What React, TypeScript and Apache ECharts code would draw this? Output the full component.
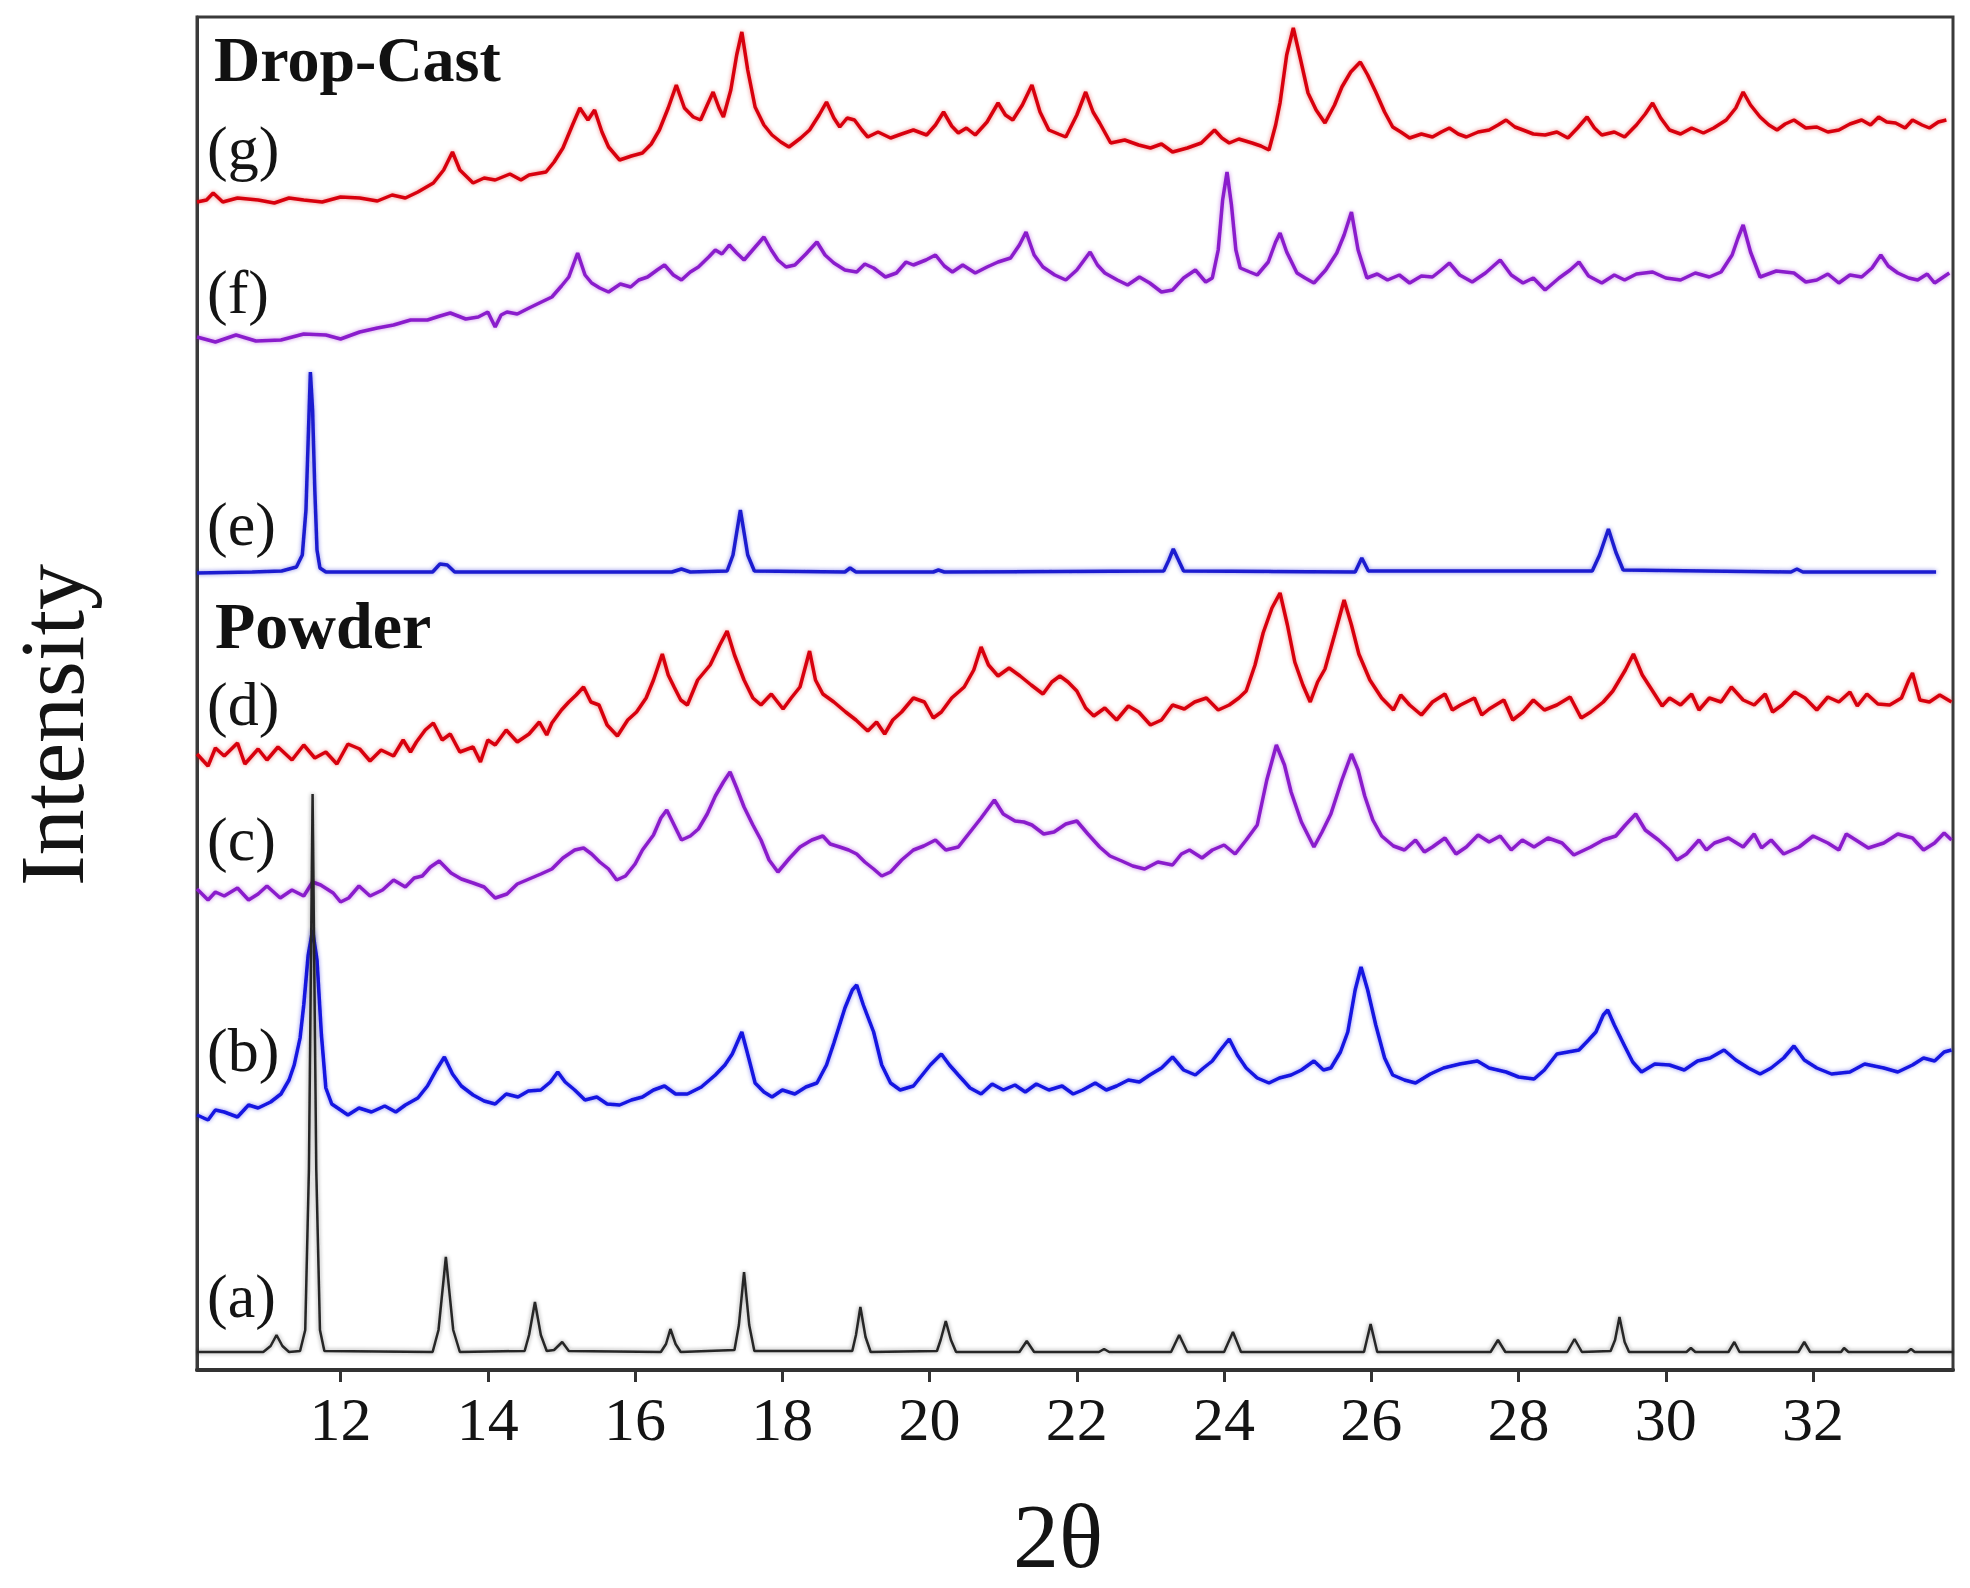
import React, { useEffect, useRef } from "react";
import * as echarts from "echarts";

// 2θ axis
const X_MIN = 10.05;
const X_MAX = 33.9;
const X_TICKS = [12, 14, 16, 18, 20, 22, 24, 26, 28, 30, 32];
const Y_MAX = 1353;

const traceLabels = ["(a)", "(b)", "(c)", "(d)", "(e)", "(f)", "(g)"];

// (a) black – simulated pattern
const traceA: number[][] = [[10.05,18],[10.95,18],[11.05,24],[11.13,35],[11.21,24],[11.3,18],[11.45,19],[11.52,40],[11.57,200],[11.62,576],[11.67,200],[11.72,40],[11.78,19],[13.25,18],[13.33,40],[13.43,113],[13.53,40],[13.62,18],[14.5,19],[14.56,35],[14.64,68],[14.72,35],[14.8,19],[14.9,20],[15.01,28],[15.1,19],[16.35,18],[16.42,26],[16.48,41],[16.55,26],[16.62,18],[17.35,20],[17.41,45],[17.48,98],[17.55,45],[17.62,19],[18.95,19],[19.0,35],[19.06,63],[19.13,33],[19.2,18],[20.1,19],[20.15,30],[20.22,49],[20.29,30],[20.36,18],[21.22,18],[21.32,29],[21.42,18],[22.3,18],[22.37,21],[22.44,18],[23.28,18],[23.39,35],[23.5,18],[24.0,18],[24.12,38],[24.23,18],[25.9,18],[25.99,46],[26.08,18],[27.62,18],[27.72,30],[27.82,18],[28.66,18],[28.76,31],[28.86,18],[29.25,19],[29.31,30],[29.37,53],[29.44,28],[29.5,18],[30.28,18],[30.34,22],[30.4,18],[30.85,18],[30.93,28],[31.0,18],[31.8,18],[31.88,28],[31.96,18],[32.38,18],[32.42,22],[32.48,18],[33.28,18],[33.33,21],[33.38,18],[33.9,18]];

// (b) blue powder
const traceB: number[][] = [[10.05,255],[10.2,250],[10.3,260],[10.42,258],[10.6,253],[10.75,265],[10.88,262],[11.05,268],[11.19,276],[11.3,290],[11.37,305],[11.45,332],[11.5,365],[11.56,415],[11.62,440],[11.68,410],[11.74,335],[11.8,282],[11.88,266],[11.96,262],[12.1,255],[12.25,262],[12.42,258],[12.6,264],[12.75,258],[12.88,265],[13.05,272],[13.18,284],[13.3,300],[13.41,313],[13.52,296],[13.64,284],[13.8,275],[13.95,269],[14.1,266],[14.25,276],[14.41,273],[14.55,279],[14.72,280],[14.85,288],[14.95,298],[15.05,288],[15.18,280],[15.32,270],[15.48,273],[15.62,266],[15.79,265],[15.95,270],[16.1,273],[16.25,280],[16.4,284],[16.55,276],[16.71,276],[16.9,283],[17.09,295],[17.22,305],[17.32,316],[17.45,338],[17.55,310],[17.63,287],[17.75,278],[17.86,273],[18.0,280],[18.17,276],[18.32,283],[18.47,287],[18.6,305],[18.7,327],[18.85,362],[18.95,380],[19.01,385],[19.1,365],[19.24,338],[19.35,305],[19.47,287],[19.6,280],[19.78,284],[19.9,295],[20.01,305],[20.16,316],[20.27,305],[20.39,295],[20.55,282],[20.7,276],[20.85,286],[21.0,280],[21.16,285],[21.3,278],[21.45,286],[21.62,280],[21.8,284],[21.95,276],[22.08,280],[22.25,287],[22.4,280],[22.54,284],[22.7,290],[22.85,288],[22.99,295],[23.15,302],[23.3,313],[23.45,300],[23.61,295],[23.72,302],[23.84,309],[23.95,320],[24.07,331],[24.18,315],[24.3,302],[24.45,292],[24.61,287],[24.75,292],[24.91,295],[25.05,300],[25.22,309],[25.35,300],[25.45,302],[25.58,318],[25.68,338],[25.78,380],[25.86,403],[25.95,380],[26.06,345],[26.18,312],[26.29,295],[26.45,290],[26.6,287],[26.8,296],[26.98,302],[27.2,306],[27.44,309],[27.6,302],[27.83,298],[28.0,293],[28.21,291],[28.35,300],[28.52,316],[28.67,318],[28.82,320],[28.95,330],[29.05,338],[29.15,355],[29.21,360],[29.3,345],[29.44,324],[29.55,308],[29.67,298],[29.85,306],[30.05,305],[30.25,300],[30.43,309],[30.6,312],[30.79,320],[30.95,310],[31.12,302],[31.28,296],[31.43,302],[31.6,312],[31.74,324],[31.88,310],[32.05,302],[32.25,296],[32.5,298],[32.7,306],[32.96,302],[33.15,298],[33.35,305],[33.5,312],[33.65,309],[33.78,318],[33.88,320]];

// (c) purple powder
const traceC: number[][] = [[10.05,481],[10.2,470],[10.3,478],[10.42,474],[10.6,482],[10.75,470],[10.88,476],[11.0,484],[11.18,472],[11.34,480],[11.5,474],[11.62,488],[11.73,485],[11.9,477],[12.0,468],[12.11,472],[12.25,484],[12.4,474],[12.57,480],[12.72,490],[12.88,483],[13.0,492],[13.11,494],[13.22,503],[13.34,509],[13.5,497],[13.64,491],[13.8,487],[13.95,483],[14.1,472],[14.26,476],[14.4,486],[14.56,491],[14.72,496],[14.87,501],[15.02,512],[15.18,520],[15.3,522],[15.41,516],[15.52,508],[15.64,501],[15.75,490],[15.87,494],[16.0,506],[16.1,520],[16.25,535],[16.35,552],[16.43,560],[16.53,545],[16.63,530],[16.75,534],[16.86,541],[16.98,556],[17.09,574],[17.2,588],[17.29,598],[17.38,582],[17.48,563],[17.6,545],[17.71,530],[17.82,510],[17.94,498],[18.1,512],[18.24,523],[18.4,530],[18.55,534],[18.65,526],[18.78,523],[18.9,520],[19.01,516],[19.12,508],[19.24,501],[19.35,494],[19.47,498],[19.62,510],[19.78,520],[19.92,524],[20.08,530],[20.22,520],[20.39,523],[20.55,538],[20.7,552],[20.8,562],[20.88,570],[21.0,556],[21.16,549],[21.28,548],[21.39,545],[21.55,536],[21.69,538],[21.85,546],[22.0,549],[22.15,536],[22.31,523],[22.45,514],[22.61,509],[22.76,504],[22.92,501],[23.1,508],[23.3,505],[23.42,516],[23.53,520],[23.7,512],[23.84,520],[24.0,525],[24.15,516],[24.3,530],[24.45,545],[24.58,590],[24.71,625],[24.82,605],[24.91,578],[25.05,548],[25.22,523],[25.33,538],[25.45,556],[25.6,590],[25.73,616],[25.82,600],[25.91,574],[26.02,550],[26.14,534],[26.3,524],[26.45,520],[26.6,530],[26.72,518],[26.83,523],[27.0,532],[27.15,516],[27.29,523],[27.45,535],[27.6,528],[27.75,534],[27.9,520],[28.05,530],[28.21,523],[28.4,532],[28.59,527],[28.75,515],[28.98,523],[29.15,530],[29.32,534],[29.45,545],[29.59,556],[29.72,540],[29.9,530],[30.05,520],[30.15,510],[30.28,516],[30.45,530],[30.55,520],[30.66,527],[30.85,532],[31.05,523],[31.2,536],[31.3,522],[31.43,530],[31.6,516],[31.81,523],[32.0,534],[32.2,527],[32.35,520],[32.45,536],[32.58,530],[32.75,522],[32.96,527],[33.15,536],[33.35,532],[33.5,520],[33.65,527],[33.78,537],[33.88,530]];

// (d) red powder
const traceD: number[][] = [[10.05,616],[10.2,604],[10.3,622],[10.42,614],[10.6,627],[10.7,606],[10.88,621],[11.0,610],[11.15,623],[11.34,610],[11.5,625],[11.65,612],[11.8,618],[11.95,606],[12.1,626],[12.26,621],[12.4,609],[12.55,620],[12.72,614],[12.85,630],[12.95,618],[13.03,628],[13.15,640],[13.26,647],[13.38,630],[13.49,636],[13.62,618],[13.8,623],[13.9,608],[14.0,630],[14.1,625],[14.25,640],[14.4,628],[14.56,636],[14.7,648],[14.8,635],[14.87,647],[15.0,660],[15.1,668],[15.2,675],[15.3,683],[15.4,668],[15.51,665],[15.62,645],[15.76,634],[15.9,650],[16.02,658],[16.15,672],[16.25,690],[16.37,716],[16.45,695],[16.53,683],[16.62,670],[16.71,665],[16.85,690],[17.02,705],[17.15,725],[17.25,739],[17.35,715],[17.48,690],[17.6,672],[17.71,665],[17.85,676],[18.01,661],[18.12,672],[18.24,683],[18.37,719],[18.45,690],[18.55,676],[18.7,668],[18.86,658],[19.0,650],[19.16,639],[19.28,648],[19.39,636],[19.5,650],[19.62,658],[19.78,672],[19.93,668],[20.05,652],[20.16,658],[20.3,672],[20.47,683],[20.6,700],[20.7,723],[20.8,705],[20.93,694],[21.08,702],[21.23,694],[21.38,685],[21.54,676],[21.66,688],[21.77,694],[21.88,688],[22.0,679],[22.12,662],[22.23,654],[22.38,662],[22.54,650],[22.7,664],[22.84,658],[23.0,645],[23.15,650],[23.3,665],[23.46,661],[23.6,668],[23.76,672],[23.92,660],[24.07,665],[24.2,672],[24.3,679],[24.42,705],[24.53,737],[24.65,762],[24.76,777],[24.86,745],[24.96,708],[25.07,685],[25.17,668],[25.27,688],[25.37,701],[25.5,735],[25.63,770],[25.73,745],[25.83,716],[25.98,690],[26.14,672],[26.3,660],[26.4,675],[26.52,665],[26.68,655],[26.83,668],[27.0,676],[27.1,660],[27.21,665],[27.4,672],[27.5,655],[27.6,661],[27.8,670],[27.92,650],[28.06,658],[28.2,670],[28.35,660],[28.52,665],[28.7,673],[28.85,652],[28.98,658],[29.15,668],[29.28,679],[29.45,700],[29.56,716],[29.68,695],[29.82,679],[29.95,664],[30.05,672],[30.2,665],[30.35,676],[30.45,660],[30.59,672],[30.75,668],[30.89,683],[31.05,670],[31.2,665],[31.35,676],[31.45,658],[31.58,665],[31.75,678],[31.89,672],[32.05,660],[32.2,673],[32.35,668],[32.5,678],[32.6,664],[32.73,676],[32.88,666],[33.04,665],[33.2,672],[33.3,690],[33.35,697],[33.45,670],[33.58,668],[33.72,675],[33.88,668]];

// (e) blue drop-cast reference (smooth)
const traceE: number[][] = [[10.05,797],[10.8,798],[11.2,799],[11.4,803],[11.48,815],[11.53,860],[11.56,930],[11.59,998],[11.62,960],[11.65,880],[11.68,820],[11.72,802],[11.8,798],[13.25,798],[13.35,806],[13.45,805],[13.55,798],[16.5,798],[16.63,801],[16.75,798],[17.25,799],[17.33,815],[17.43,860],[17.53,815],[17.62,799],[18.85,798],[18.92,802],[19.0,798],[20.05,798],[20.12,800],[20.2,798],[23.18,799],[23.25,810],[23.31,821],[23.38,810],[23.45,799],[25.78,798],[25.87,812],[25.96,799],[29.0,799],[29.1,815],[29.22,841],[29.32,818],[29.42,800],[31.7,798],[31.78,801],[31.86,798],[33.67,798]];

// (f) purple drop-cast
const traceF: number[][] = [[10.05,1033],[10.3,1028],[10.58,1035],[10.85,1029],[11.19,1030],[11.5,1036],[11.8,1035],[12.0,1031],[12.26,1038],[12.5,1042],[12.72,1045],[12.95,1050],[13.18,1050],[13.35,1054],[13.49,1057],[13.7,1051],[13.87,1053],[14.0,1058],[14.1,1043],[14.18,1055],[14.26,1058],[14.4,1056],[14.56,1062],[14.7,1067],[14.87,1073],[15.0,1084],[15.1,1093],[15.22,1117],[15.32,1095],[15.41,1087],[15.52,1082],[15.64,1078],[15.8,1086],[15.94,1083],[16.05,1090],[16.17,1093],[16.3,1100],[16.4,1105],[16.52,1095],[16.63,1090],[16.75,1098],[16.86,1103],[17.0,1113],[17.09,1120],[17.18,1116],[17.28,1125],[17.38,1117],[17.48,1110],[17.62,1122],[17.75,1133],[17.85,1120],[17.94,1110],[18.05,1103],[18.17,1105],[18.32,1116],[18.47,1128],[18.58,1115],[18.7,1107],[18.85,1100],[19.01,1098],[19.12,1106],[19.24,1102],[19.4,1093],[19.55,1097],[19.68,1108],[19.78,1105],[19.95,1110],[20.08,1115],[20.2,1104],[20.31,1098],[20.45,1105],[20.62,1097],[20.78,1103],[20.93,1108],[21.1,1112],[21.22,1125],[21.31,1138],[21.42,1115],[21.54,1103],[21.7,1095],[21.85,1090],[22.0,1100],[22.18,1118],[22.28,1105],[22.38,1097],[22.55,1090],[22.69,1085],[22.85,1093],[22.99,1087],[23.15,1078],[23.3,1080],[23.45,1092],[23.61,1100],[23.75,1088],[23.84,1092],[23.92,1120],[23.98,1170],[24.04,1198],[24.1,1165],[24.16,1120],[24.22,1102],[24.35,1098],[24.45,1095],[24.6,1108],[24.7,1128],[24.76,1137],[24.85,1118],[24.99,1097],[25.1,1092],[25.22,1087],[25.38,1100],[25.53,1117],[25.63,1135],[25.73,1158],[25.82,1120],[25.94,1092],[26.08,1096],[26.22,1090],[26.38,1095],[26.52,1087],[26.68,1094],[26.83,1093],[26.95,1100],[27.06,1107],[27.2,1095],[27.37,1088],[27.55,1097],[27.75,1110],[27.9,1095],[28.06,1087],[28.2,1092],[28.36,1080],[28.55,1092],[28.7,1100],[28.82,1108],[28.95,1094],[29.13,1087],[29.3,1095],[29.44,1090],[29.6,1096],[29.82,1098],[30.0,1092],[30.2,1090],[30.4,1097],[30.59,1093],[30.75,1098],[30.9,1115],[30.98,1132],[31.05,1145],[31.15,1118],[31.28,1093],[31.5,1099],[31.74,1097],[31.9,1088],[32.05,1090],[32.2,1096],[32.35,1087],[32.5,1095],[32.66,1093],[32.8,1102],[32.92,1115],[33.02,1104],[33.15,1097],[33.3,1092],[33.42,1090],[33.55,1096],[33.65,1087],[33.75,1092],[33.85,1097]];

// (g) red drop-cast
const traceG: number[][] = [[10.05,1168],[10.18,1170],[10.27,1177],[10.4,1168],[10.6,1172],[10.88,1170],[11.1,1167],[11.3,1172],[11.5,1170],[11.75,1168],[12.0,1173],[12.26,1172],[12.5,1169],[12.7,1175],[12.88,1172],[13.05,1178],[13.26,1187],[13.4,1200],[13.52,1218],[13.62,1200],[13.8,1187],[13.95,1192],[14.1,1190],[14.3,1196],[14.45,1190],[14.56,1195],[14.79,1198],[14.9,1208],[15.02,1222],[15.15,1245],[15.25,1262],[15.36,1250],[15.45,1260],[15.55,1238],[15.64,1223],[15.79,1210],[15.95,1214],[16.1,1217],[16.22,1226],[16.33,1240],[16.45,1262],[16.56,1285],[16.67,1262],[16.79,1253],[16.89,1250],[16.98,1265],[17.06,1278],[17.14,1262],[17.2,1253],[17.3,1280],[17.38,1315],[17.45,1338],[17.53,1300],[17.63,1263],[17.75,1245],[17.86,1235],[17.98,1228],[18.09,1223],[18.25,1232],[18.37,1240],[18.5,1255],[18.6,1268],[18.7,1252],[18.78,1243],[18.88,1252],[18.98,1250],[19.08,1240],[19.16,1233],[19.3,1238],[19.47,1232],[19.62,1236],[19.78,1240],[19.96,1235],[20.08,1245],[20.19,1258],[20.3,1244],[20.39,1237],[20.5,1242],[20.62,1235],[20.78,1248],[20.93,1267],[21.03,1255],[21.13,1250],[21.26,1265],[21.39,1285],[21.5,1258],[21.62,1240],[21.75,1236],[21.85,1233],[22.0,1255],[22.12,1278],[22.22,1258],[22.31,1247],[22.46,1227],[22.65,1230],[22.84,1225],[23.0,1222],[23.15,1226],[23.3,1218],[23.5,1222],[23.69,1227],[23.87,1240],[23.97,1232],[24.07,1227],[24.2,1231],[24.38,1227],[24.5,1224],[24.61,1220],[24.7,1245],[24.76,1267],[24.85,1315],[24.94,1342],[25.04,1310],[25.14,1277],[25.25,1260],[25.37,1247],[25.5,1265],[25.6,1283],[25.72,1298],[25.85,1308],[25.95,1295],[26.06,1278],[26.18,1258],[26.29,1243],[26.4,1238],[26.52,1232],[26.68,1236],[26.83,1233],[26.95,1238],[27.06,1242],[27.18,1236],[27.29,1233],[27.45,1238],[27.6,1240],[27.72,1245],[27.83,1250],[27.95,1243],[28.06,1240],[28.2,1236],[28.36,1235],[28.52,1238],[28.67,1232],[28.8,1242],[28.93,1253],[29.03,1242],[29.13,1235],[29.3,1238],[29.44,1233],[29.6,1245],[29.72,1256],[29.82,1267],[29.93,1252],[30.05,1240],[30.2,1236],[30.35,1242],[30.51,1237],[30.65,1242],[30.82,1250],[30.95,1262],[31.05,1278],[31.15,1265],[31.28,1253],[31.4,1245],[31.51,1240],[31.62,1246],[31.74,1250],[31.9,1242],[32.05,1243],[32.2,1238],[32.35,1240],[32.5,1246],[32.66,1250],[32.78,1245],[32.89,1253],[33.0,1248],[33.12,1247],[33.25,1242],[33.35,1250],[33.48,1245],[33.58,1242],[33.7,1248],[33.81,1250]];

const COLORS = {
  a: "#262626",
  b: "#1414e2",
  c: "#8a1ccc",
  d: "#d8000c",
  e: "#1c1cd0",
  f: "#8a1ccc",
  g: "#d8000c",
};

const SERIF = "'Liberation Serif', 'Times New Roman', serif";

function mkSeries(name: string, data: number[][], color: string, width: number, z: number) {
  return {
    name,
    type: "line",
    data,
    showSymbol: false,
    symbol: "none",
    smooth: false,
    z,
    lineStyle: { color, width, shadowColor: color + "77", shadowBlur: 4 },
    emphasis: { disabled: true },
  };
}

function label(text: string, x: number, y: number, bold = false, size = 62) {
  return {
    type: "text",
    x,
    y,
    z: 100,
    style: {
      text,
      fill: "#141414",
      fontFamily: SERIF,
      fontSize: size,
      fontWeight: bold ? "bold" : "normal",
      align: "left",
      verticalAlign: "middle",
    },
  };
}

export default function App() {
  const ref = useRef<HTMLDivElement>(null);

  useEffect(() => {
    if (!ref.current) return;
    const chart = echarts.init(ref.current, undefined, { renderer: "svg" });
    const labelYs = [1296, 1050, 839, 704, 524, 292, 148];
    chart.setOption({
      animation: false,
      backgroundColor: "#ffffff",
      grid: {
        left: 197,
        right: 17,
        top: 17,
        bottom: 218,
        show: true,
        borderColor: "#3a3a3a",
        borderWidth: 3,
      },
      xAxis: {
        type: "value",
        min: X_MIN,
        max: X_MAX,
        axisLine: { show: true, onZero: false, lineStyle: { color: "#333", width: 4 } },
        axisTick: {
          show: true,
          customValues: X_TICKS,
          length: 12,
          inside: false,
          lineStyle: { color: "#333", width: 3 },
        },
        axisLabel: {
          show: true,
          customValues: X_TICKS,
          fontSize: 62,
          fontFamily: SERIF,
          color: "#141414",
          margin: 18,
        },
        splitLine: { show: false },
      },
      yAxis: {
        type: "value",
        min: 0,
        max: Y_MAX,
        axisLine: { show: true, lineStyle: { color: "#3a3a3a", width: 3 } },
        axisTick: { show: false },
        axisLabel: { show: false },
        splitLine: { show: false },
      },
      series: [
        mkSeries("(g)", traceG, COLORS.g, 3.5, 2),
        mkSeries("(f)", traceF, COLORS.f, 3.5, 2),
        mkSeries("(e)", traceE, COLORS.e, 3.5, 2),
        mkSeries("(d)", traceD, COLORS.d, 3.5, 2),
        mkSeries("(c)", traceC, COLORS.c, 3.5, 2),
        mkSeries("(b)", traceB, COLORS.b, 3.5, 2),
        mkSeries("(a)", traceA, COLORS.a, 2.5, 3),
      ],
      graphic: [
        ...traceLabels.map((t, i) => label(t, 207, labelYs[i], false, 62)),
        {
          type: "text",
          x: 214,
          y: 27,
          z: 100,
          style: {
            text: "Drop-Cast",
            fill: "#111",
            fontFamily: SERIF,
            fontSize: 64,
            fontWeight: "bold",
            align: "left",
            verticalAlign: "top",
          },
        },
        {
          type: "text",
          x: 215,
          y: 592,
          z: 100,
          style: {
            text: "Powder",
            fill: "#111",
            fontFamily: SERIF,
            fontSize: 66,
            fontWeight: "bold",
            align: "left",
            verticalAlign: "top",
          },
        },
        {
          type: "text",
          x: 1013,
          y: 1490,
          z: 100,
          style: {
            text: "2θ",
            fill: "#141414",
            fontFamily: SERIF,
            fontSize: 92,
            align: "left",
            verticalAlign: "top",
          },
        },
        {
          type: "text",
          x: 52,
          y: 725,
          rotation: Math.PI / 2,
          z: 100,
          style: {
            text: "Intensity",
            fill: "#141414",
            fontFamily: SERIF,
            fontSize: 92,
            align: "center",
            verticalAlign: "middle",
          },
        },
      ],
    });
    return () => chart.dispose();
  }, []);

  return (
    <div
      ref={ref}
      style={{ position: "fixed", left: 0, top: 0, width: 1970, height: 1588, background: "#fff" }}
    />
  );
}
